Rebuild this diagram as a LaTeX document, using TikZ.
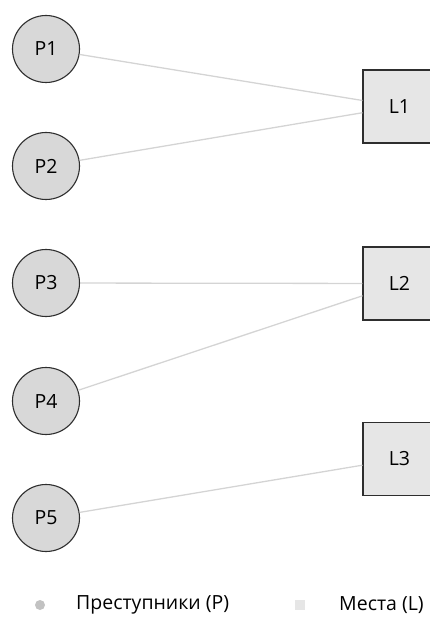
\documentclass[tikz,border=0pt]{standalone}
\usepackage{fontspec}
\setmainfont{Open Sans}
\usepackage{xcolor}
\usepackage{tikz}
\definecolor{edgegray}{HTML}{D4D4D4}
\definecolor{pfill}{HTML}{D8D8D8}
\definecolor{lfill}{HTML}{E6E6E6}
\definecolor{rim}{HTML}{2E2E2E}
\tikzset{
    vnode/.style = {align=center, inner sep=0pt, text centered, font=\fontsize{19.5}{22}\selectfont},
    perp/.style = {vnode, circle, draw=rim, fill=pfill, minimum size=67pt, line width=1.1pt},
    place/.style = {vnode, rectangle, draw=rim, fill=lfill, minimum size=73pt, line width=1.1pt},
    link/.style = {draw=edgegray, line width=1.3pt},
    keytext/.style = {vnode, anchor=west}
}

\begin{document}
\begin{tikzpicture}[x=1pt, y=-1pt]
    \useasboundingbox (0,0) rectangle (430,617);

    % suspects
    \node [perp] (P1) at (46,49)  {P1};
    \node [perp] (P2) at (46,166) {P2};
    \node [perp] (P3) at (46,283) {P3};
    \node [perp] (P4) at (46,401) {P4};
    \node [perp] (P5) at (46,518) {P5};

    % places
    \node [place] (L1) at (399.5,106.5) {L1};
    \node [place] (L2) at (399.5,283.5) {L2};
    \node [place] (L3) at (399.5,459)   {L3};

    \draw [link] (P1) -- (L1);
    \draw [link] (P2) -- (L1);
    \draw [link] (P3) -- (L2);
    \draw [link] (P4) -- (L2);
    \draw [link] (P5) -- (L3);

    % legend
    \node [circle, fill=pfill!90!black, minimum size=10pt, inner sep=0pt] (keyP) at (40,605) {};
    \node [keytext] (keyPtext) at (76,605) {Преступники (P)};
    \node [rectangle, fill=lfill, minimum size=10pt, inner sep=0pt] (keyL) at (300,605) {};
    \node [keytext] (keyLtext) at (339,605) {Места (L)};
\end{tikzpicture}
\end{document}
